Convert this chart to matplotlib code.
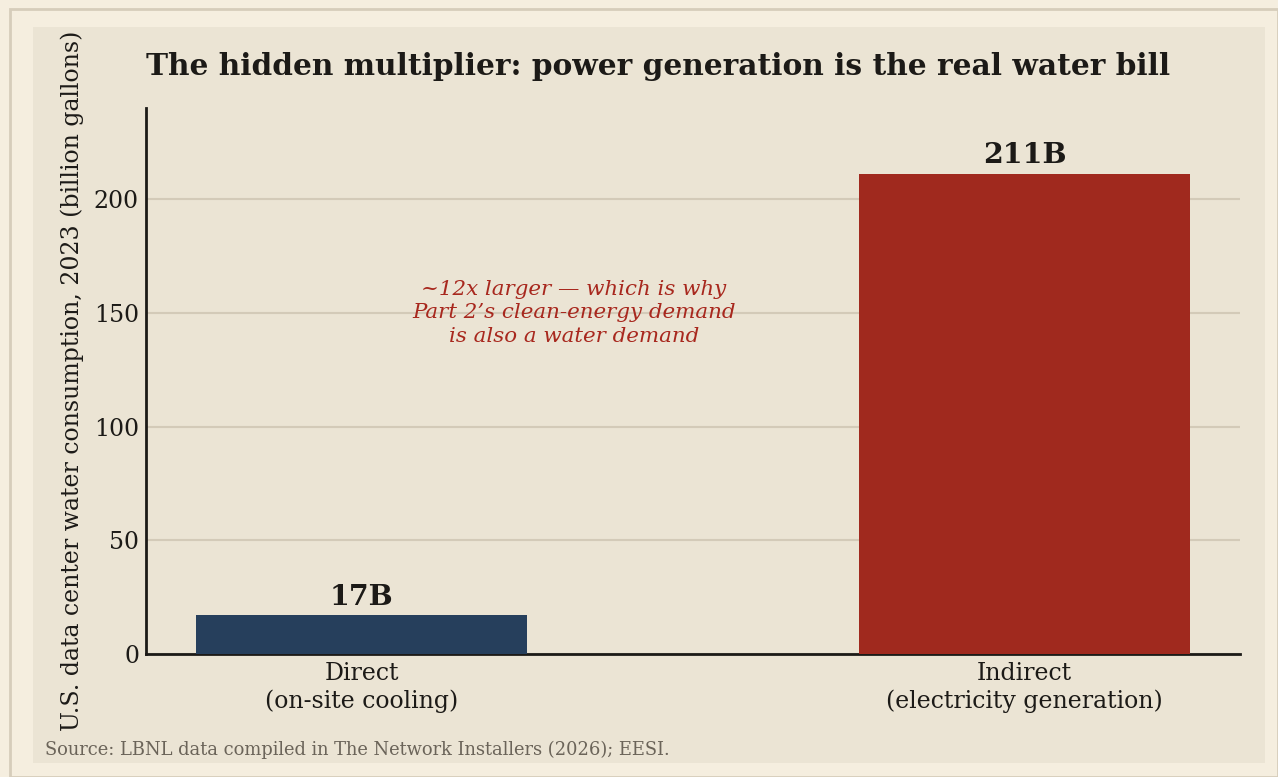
import matplotlib.pyplot as plt
from matplotlib.patches import Rectangle

# data
categories = ['Direct\n(on-site cooling)', 'Indirect\n(electricity generation)']
values = [17, 211]
value_labels = ['17B', '211B']
bar_colors = ['#263f5c', '#a0291e']

plt.rcParams['font.family'] = ['DejaVu Serif']

fig = plt.figure(figsize=(12.78, 7.77), dpi=100)
fig.patch.set_facecolor('#f5eedf')

# page border + inner panel
fig.patches.append(Rectangle((10 / 1278, 0), 1 - 10 / 1278, 1 - 9 / 777, transform=fig.transFigure,
                             facecolor='#f5eedf', edgecolor='#d6cdbb', linewidth=2, zorder=-3))
fig.patches.append(Rectangle((33 / 1278, 14 / 777), (1265 - 33) / 1278, (763 - 27) / 777,
                             transform=fig.transFigure, facecolor='#ebe4d4', edgecolor='none', zorder=-2))

ax = fig.add_axes([146 / 1278, 1 - 654 / 777, (1240 - 146) / 1278, (654 - 108) / 777])
ax.set_facecolor('#ebe4d4')

x = range(len(categories))
bars = ax.bar(x, values, width=0.5, color=bar_colors, zorder=3)
for b, lab in zip(bars, value_labels):
    ax.text(b.get_x() + b.get_width() / 2, b.get_height() + 2, lab,
            ha='center', va='bottom', fontsize=20.5, fontweight='bold', color='#1c1a17')

ax.set_ylim(0, 240)
ax.set_xticks(list(x))
ax.set_xticklabels(categories, fontsize=17, color='#1c1a17')
ax.set_yticks([0, 50, 100, 150, 200])
ax.tick_params(axis='y', labelsize=17, colors='#1c1a17', length=0, pad=5)
ax.tick_params(axis='x', length=0, pad=6)
ax.grid(axis='y', color='#d3cab8', linewidth=1.5, zorder=0)
ax.set_axisbelow(True)
for s in ['top', 'right']:
    ax.spines[s].set_visible(False)
for s in ['left', 'bottom']:
    ax.spines[s].set_color('#1c1a17')
    ax.spines[s].set_linewidth(2)

ax.set_ylabel('U.S. data center water consumption, 2023 (billion gallons)', fontsize=17,
              color='#1c1a17', labelpad=7.5)
ax.set_title('The hidden multiplier: power generation is the real water bill', loc='left',
             fontsize=21.3, fontweight='bold', color='#1c1a17', pad=24)

ax.text(0.32, 150, '~12x larger \u2014 which is why\nPart 2\u2019s clean-energy demand\nis also a water demand',
        ha='center', va='center', fontsize=15.4, style='italic', color='#a8281e', linespacing=1.3)

fig.text(45 / 1278, 1 - 750 / 777, 'Source: LBNL data compiled in The Network Installers (2026); EESI.',
         ha='left', va='center', fontsize=12.9, color='#6b6459')

fig.savefig('out.png', dpi=100, facecolor=fig.get_facecolor())
